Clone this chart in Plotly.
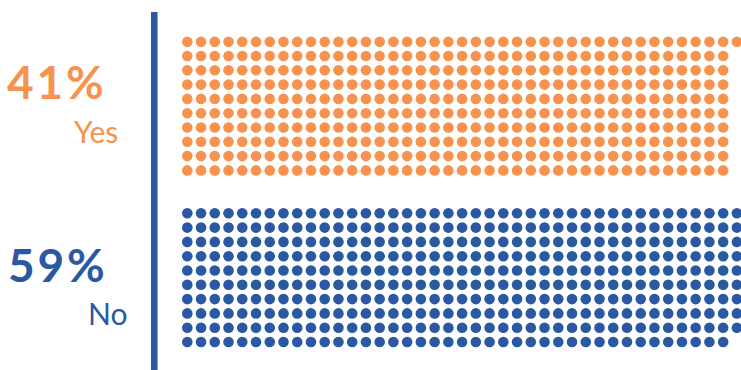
import plotly.graph_objects as go

categories = ["Yes", "No"]
percent_labels = ["41%", "59%"]
dot_counts = [401, 409]          # dots visible in each block (column-major, 10 per column)
colors = ["#F7934F", "#2A58A3"]
rows_per_block = 10
block_row_offset = [0, 12]       # starting grid row of each block

W, H = 741, 370
# grid geometry (pixels)
x0_px, dx_px = 187.3, 13.74
y0_px, dy_px = 41.7, 14.3

fig = go.Figure()
for cat, n, col, off in zip(categories, dot_counts, colors, block_row_offset):
    xs = [i // rows_per_block for i in range(n)]
    ys = [off + i % rows_per_block for i in range(n)]
    fig.add_trace(go.Scatter(
        x=xs, y=ys, mode="markers", name=cat,
        marker=dict(size=10.6, color=col, line=dict(width=0)),
        hoverinfo="skip", showlegend=False,
    ))

xl = -x0_px / dx_px
yt = -y0_px / dy_px
fig.update_xaxes(range=[xl, xl + W / dx_px], visible=False, fixedrange=True)
fig.update_yaxes(range=[yt + H / dy_px, yt], visible=False, fixedrange=True)

def px(x):
    return x / W

def py(y):
    return 1 - y / H

# vertical divider
fig.add_shape(type="line", xref="paper", yref="paper",
              x0=px(154.3), x1=px(154.3), y0=py(12), y1=py(372),
              line=dict(color=colors[1], width=6.5))

label_pos = [  # (pct right, pct center y, cat right, cat center y)
    (106, 82, 120, 131),
    (107, 264.5, 129, 313),
]
for pl, cat, col, (pr, pcy, cr, ccy) in zip(percent_labels, categories, colors, label_pos):
    spaced = "\u200a".join(pl)
    fig.add_annotation(text=f"<b>{spaced}</b>", xref="paper", yref="paper",
                       x=px(pr), y=py(pcy), xanchor="right", yanchor="middle",
                       showarrow=False, font=dict(family="Lato", size=46, color=col))
    fig.add_annotation(text=cat, xref="paper", yref="paper",
                       x=px(cr), y=py(ccy), xanchor="right", yanchor="middle",
                       showarrow=False, font=dict(family="Lato", size=30, color=col))

fig.update_layout(width=W, height=H, margin=dict(l=0, r=0, t=0, b=0),
                  paper_bgcolor="white", plot_bgcolor="white")
fig.write_html("out.html")
